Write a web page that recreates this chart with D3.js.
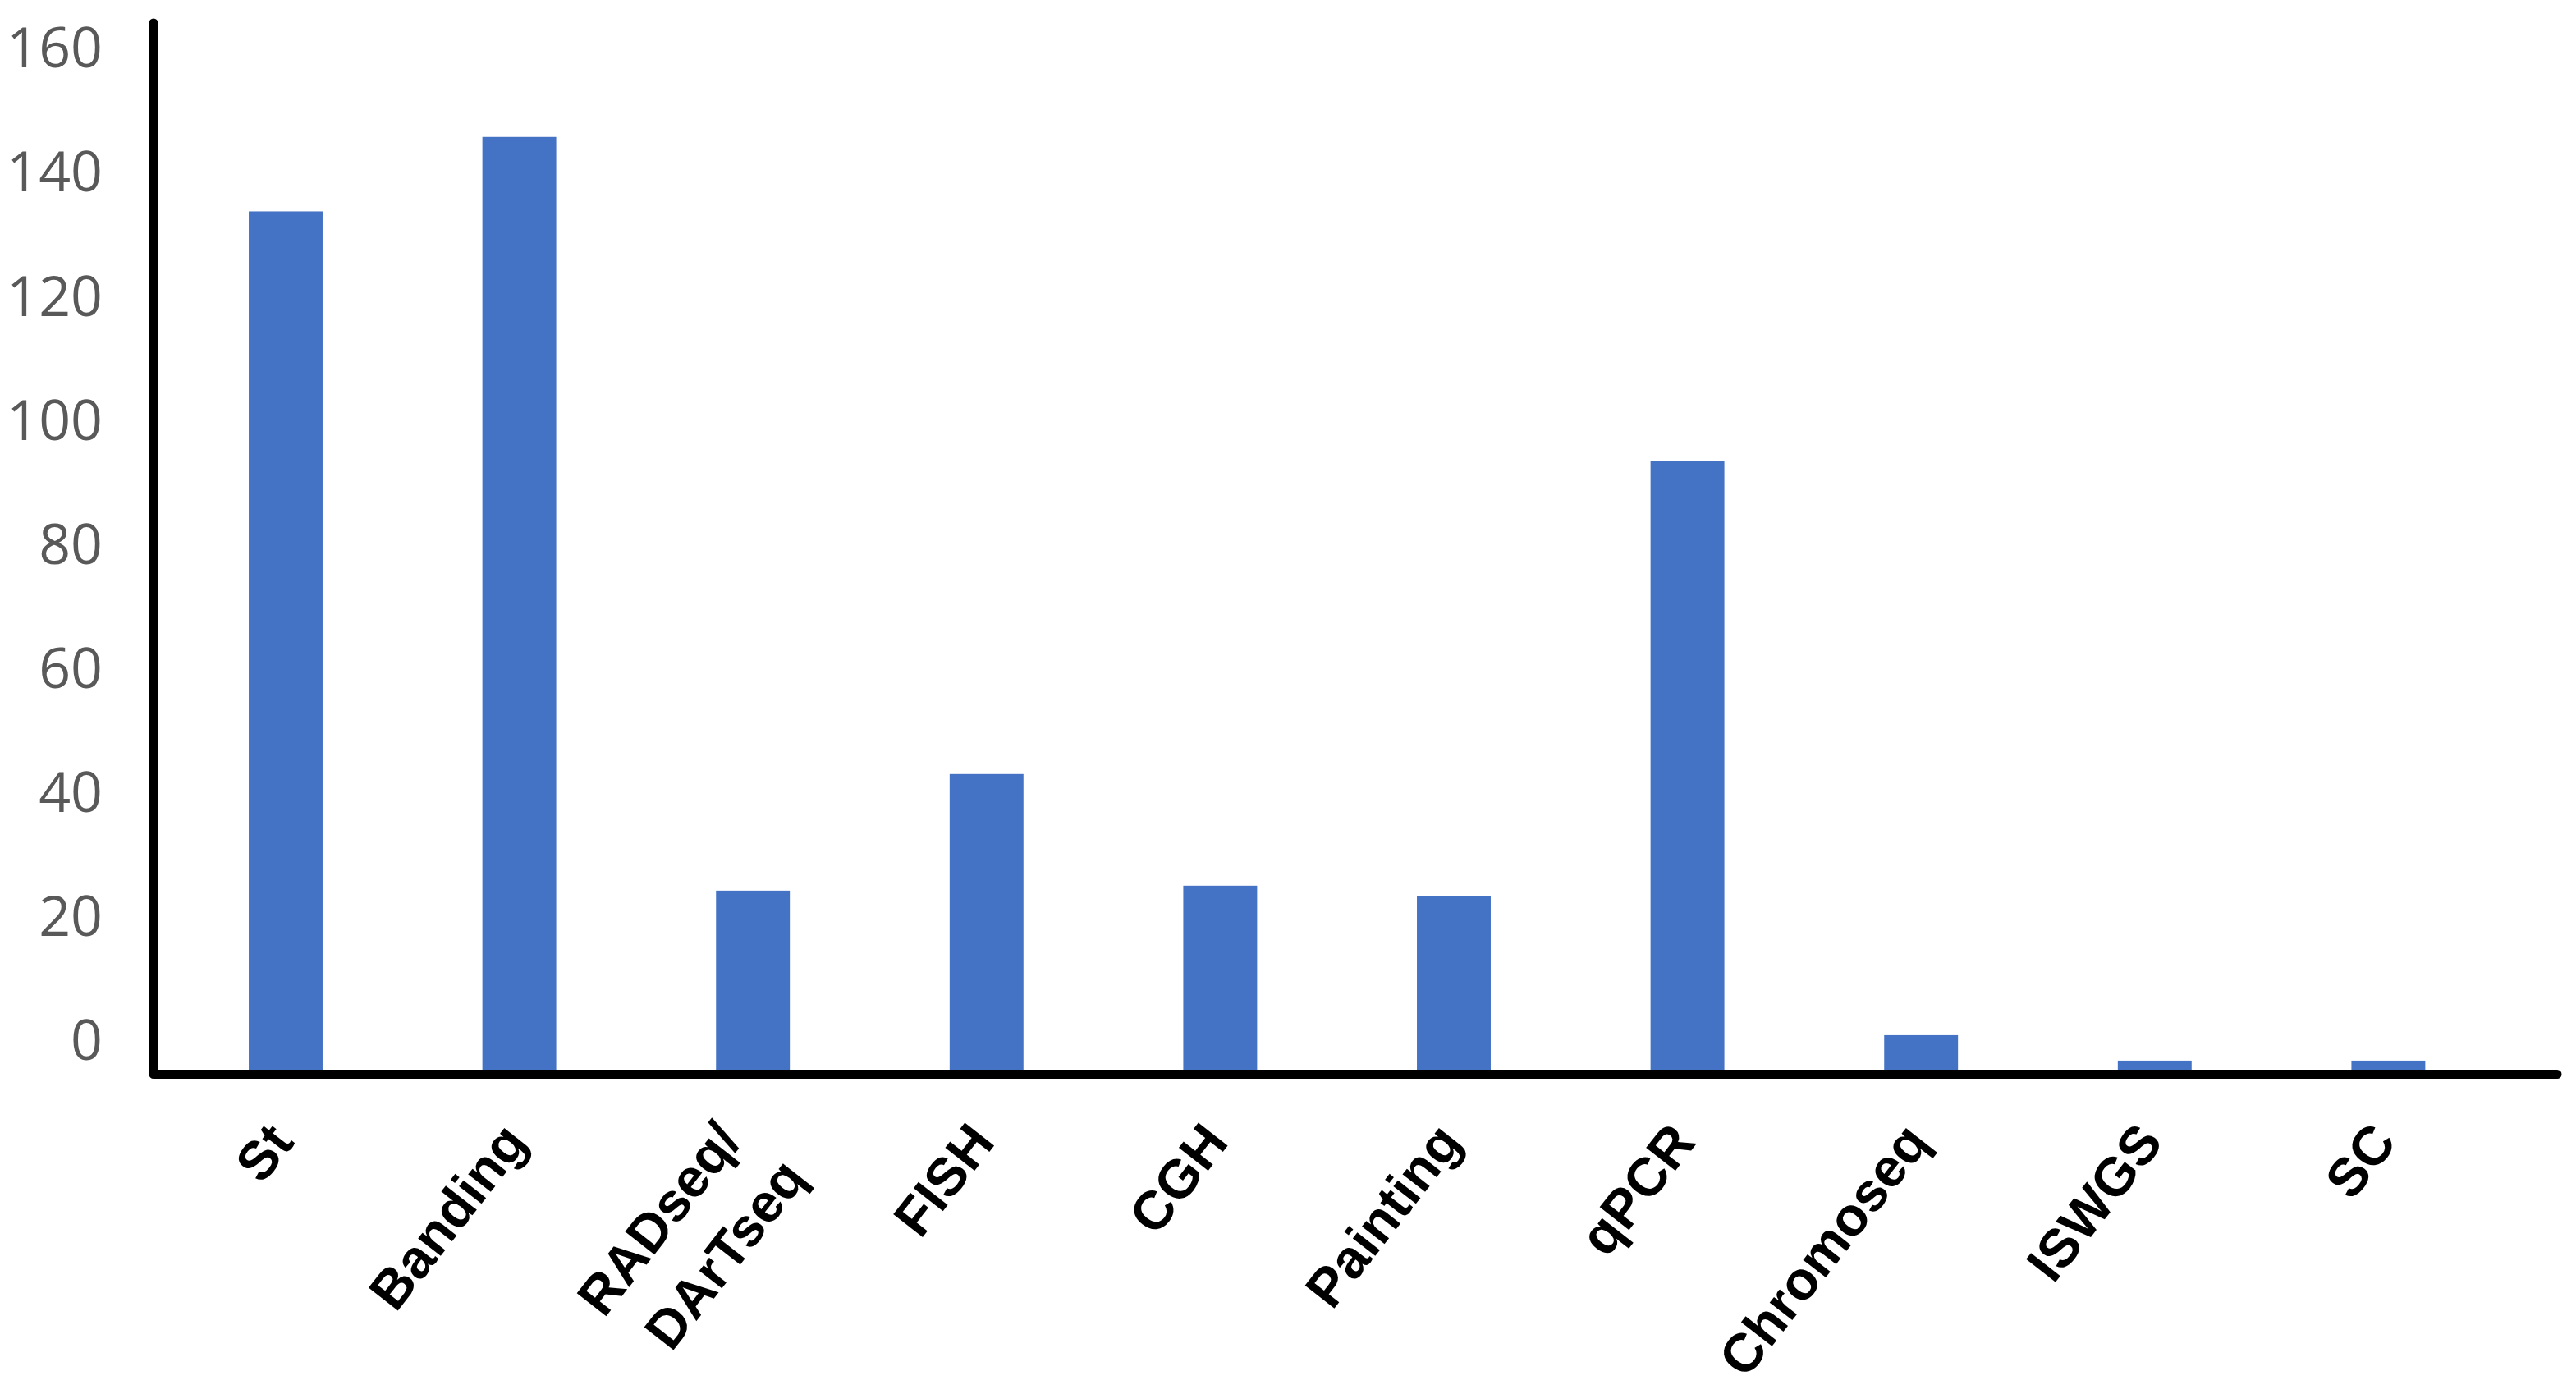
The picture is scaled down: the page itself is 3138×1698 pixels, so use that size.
<!DOCTYPE html>
<html>
<head>
<meta charset="utf-8">
<script src="https://cdn.jsdelivr.net/npm/d3@7"></script>
<style>
  html, body { margin: 0; padding: 0; background: #ffffff; }
  svg { display: block; }
</style>
</head>
<body>
<svg id="chart" width="3138" height="1698"></svg>
<script>
// ---- data ----
const categories = ["St", "Banding", "RADseq/\nDArTseq", "FISH", "CGH", "Painting", "qPCR", "Chromoseq", "ISWGS", "SC"];
const values = [138.5, 150.5, 29, 47.8, 29.8, 28.1, 98.3, 5.7, 1.6, 1.6];
const yTicks = [0, 20, 40, 60, 80, 100, 120, 140, 160];

// ---- layout ----
const svg = d3.select("#chart");

const x = d3.scaleBand()
  .domain(categories)
  .range([205.7, 3051.7])
  .paddingInner(0.684)
  .paddingOuter(0.342);

const y = d3.scaleLinear()
  .domain([0, 160])
  .range([1304, 95]);

// bars
svg.append("g").selectAll("rect")
  .data(categories)
  .join("rect")
  .attr("x", d => x(d))
  .attr("width", x.bandwidth())
  .attr("y", (d, i) => y(values[i]))
  .attr("height", (d, i) => y(0) - y(values[i]))
  .attr("fill", "#4472C4");

// y axis labels (offset above their tick positions as in the original figure)
const yAxis = d3.axisLeft(y).tickValues(yTicks).tickSize(0).tickPadding(0).tickFormat(d3.format("d"));
const gy = svg.append("g")
  .attr("transform", "translate(125,-35)")
  .call(yAxis);
gy.select(".domain").remove();
gy.selectAll("text")
  .attr("font-family", "'Open Sans', sans-serif")
  .attr("font-size", 68)
  .attr("fill", "#595959");

// x axis labels (rotated, bold)
const xAxis = d3.axisBottom(x).tickSize(0).tickFormat("");
const gx = svg.append("g")
  .attr("transform", "translate(0,1304)")
  .call(xAxis);
gx.select(".domain").remove();
gx.selectAll(".tick").each(function(d) {
  const t = d3.select(this);
  t.selectAll("text").remove();
  const lines = d.split("\n");
  const txt = t.append("text")
    .attr("font-family", "'Liberation Sans', Arial, sans-serif")
    .attr("font-weight", "bold")
    .attr("font-size", 66)
    .attr("fill", "#000")
    .attr("text-anchor", "end")
    .attr("transform", lines.length > 1 ? "translate(-12,86) rotate(-52)" : "translate(12,88) rotate(-52)");
  lines.forEach((ln, k) => {
    txt.append("tspan")
      .attr("x", k * 13)
      .attr("dy", k === 0 ? 0 : 90)
      .text(ln);
  });
});

// axis lines
svg.append("path")
  .attr("d", d3.line()([[187, 28], [187, 1308.5], [3115, 1308.5]]))
  .attr("fill", "none")
  .attr("stroke", "#000")
  .attr("stroke-width", 11)
  .attr("stroke-linejoin", "round")
  .attr("stroke-linecap", "round");
</script>
</body>
</html>
